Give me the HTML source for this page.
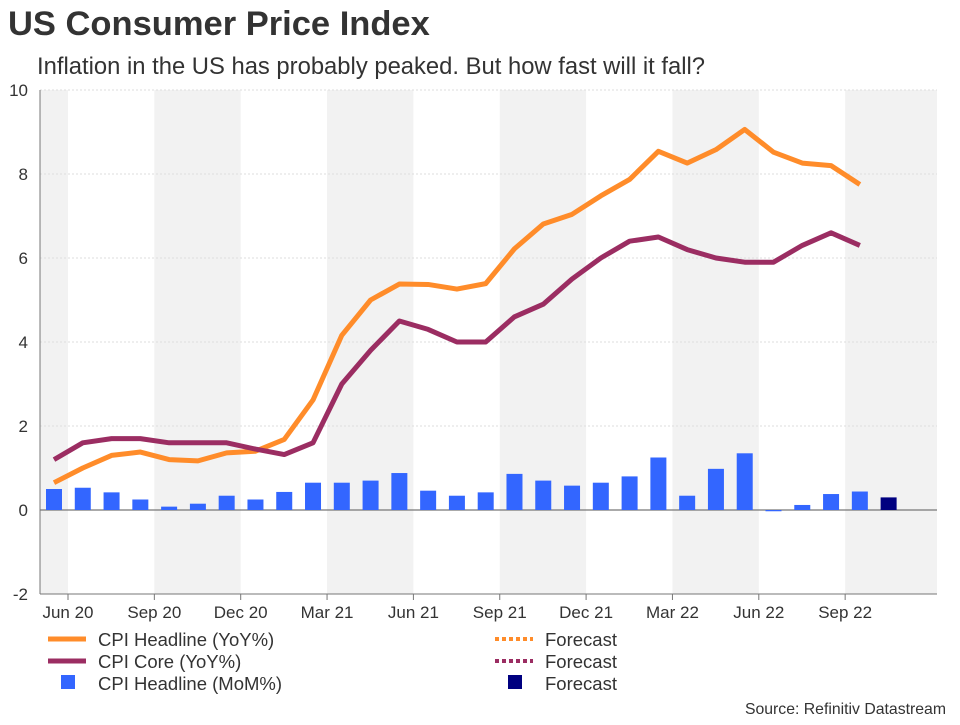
<!DOCTYPE html>
<html><head><meta charset="utf-8"><style>
body{margin:0;background:#fff;font-family:"Liberation Sans",sans-serif;}
svg text{font-family:"Liberation Sans",sans-serif;}
</style></head><body>
<svg id="c" width="960" height="720" xmlns="http://www.w3.org/2000/svg">
<text x="8" y="35" font-size="34.5" font-weight="bold" fill="#333">US Consumer Price Index</text>
<text x="37" y="74" font-size="23.8" fill="#333">Inflation in the US has probably peaked. But how fast will it fall?</text>
<g id="bands"></g><g id="grid"></g><g id="bars"></g><g id="lines"></g><g id="axes"></g>
<g>
<line x1="48" y1="639" x2="86" y2="639" stroke="#ff8c2a" stroke-width="5"/>
<text x="98" y="646" font-size="18.5" fill="#333">CPI Headline (YoY%)</text>
<line x1="48" y1="661" x2="86" y2="661" stroke="#9b2d62" stroke-width="5"/>
<text x="98" y="668" font-size="18.5" fill="#333">CPI Core (YoY%)</text>
<rect x="61" y="675" width="14" height="14" fill="#3366ff"/>
<text x="98" y="690" font-size="18.5" fill="#333">CPI Headline (MoM%)</text>
<line x1="495" y1="639" x2="533" y2="639" stroke="#ff8c2a" stroke-width="4" stroke-dasharray="4,3"/>
<text x="545" y="646" font-size="18.5" fill="#333">Forecast</text>
<line x1="495" y1="661" x2="533" y2="661" stroke="#9b2d62" stroke-width="4" stroke-dasharray="4,3"/>
<text x="545" y="668" font-size="18.5" fill="#333">Forecast</text>
<rect x="508" y="675" width="14" height="14" fill="#000080"/>
<text x="545" y="690" font-size="18.5" fill="#333">Forecast</text>
</g>
<text x="946" y="714" font-size="15.8" fill="#333" text-anchor="end">Source: Refinitiv Datastream</text>
</svg>
<script>
const headline=[0.65,1.0,1.3,1.38,1.2,1.17,1.36,1.4,1.68,2.62,4.16,5.0,5.38,5.37,5.26,5.39,6.22,6.81,7.04,7.48,7.87,8.54,8.26,8.58,9.06,8.52,8.26,8.2,7.75];
const core=[1.2,1.6,1.7,1.7,1.6,1.6,1.6,1.45,1.32,1.6,3.0,3.8,4.5,4.3,4.0,4.0,4.6,4.9,5.5,6.0,6.4,6.5,6.2,6.0,5.9,5.9,6.3,6.6,6.3];
const mom=[0.5,0.53,0.42,0.25,0.08,0.15,0.34,0.25,0.43,0.65,0.65,0.7,0.88,0.46,0.34,0.42,0.86,0.7,0.58,0.65,0.8,1.25,0.34,0.98,1.35,-0.03,0.12,0.38,0.44];
const momForecast=[0.3];
const tickLabels=["Jun 20","Sep 20","Dec 20","Mar 21","Jun 21","Sep 21","Dec 21","Mar 22","Jun 22","Sep 22"];
const yTicks=[-2,0,2,4,6,8,10];
const NS="http://www.w3.org/2000/svg";
const L=40,R=937,T=90,B=594;
const y=v=>510-(v)*42;
const x=i=>54+i*28.78;
const tx=k=>68+k*86.35;
function mk(tag,attrs,parent){const e=document.createElementNS(NS,tag);for(const k in attrs)e.setAttribute(k,attrs[k]);document.getElementById(parent).appendChild(e);return e;}
const bandEdges=[L];for(let k=0;k<tickLabels.length;k++)bandEdges.push(tx(k));bandEdges.push(R);
for(let j=0;j<bandEdges.length-1;j+=2){const e=mk('rect',{x:bandEdges[j],y:T,width:bandEdges[j+1]-bandEdges[j],height:B-T,fill:'#f2f2f2'},'bands');

}
yTicks.forEach(v=>{
const g=mk('line',{x1:L,x2:R,y1:y(v),y2:y(v),stroke:v===0?'#777':'#ddd','stroke-width':v===0?1.2:1,'stroke-dasharray':v===0?'':'2,2'},'grid');


const t=mk('text',{x:28,y:y(v)+6,'font-size':17,fill:'#333','text-anchor':'end'},'axes');t.textContent=v;

});
mom.forEach((v,i)=>{const e=mk('rect',{x:x(i)-8,y:Math.min(y(v),y(0)),width:16,height:Math.abs(y(v)-y(0)),fill:'#3366ff'},'bars');

});
momForecast.forEach((v,j)=>{const i=mom.length+j;const e=mk('rect',{x:x(i)-8,y:Math.min(y(v),y(0)),width:16,height:Math.abs(y(v)-y(0)),fill:'#000080'},'bars');

});
function line(d,c,n){const p=mk('polyline',{points:d.map((v,i)=>x(i)+','+y(v)).join(' '),fill:'none',stroke:c,'stroke-width':5,'stroke-linejoin':'round'},'lines');

}
line(headline,'#ff8c2a','line-cpi-headline');
line(core,'#9b2d62','line-cpi-core');
const ax=mk('line',{x1:L,x2:L,y1:T,y2:B,stroke:'#777'},'axes');


const bx=mk('line',{x1:L,x2:R,y1:B,y2:B,stroke:'#777'},'axes');


tickLabels.forEach((s,k)=>{const tk=mk('line',{x1:tx(k),x2:tx(k),y1:B,y2:B+6,stroke:'#777'},'axes');


const t=mk('text',{x:tx(k),y:B+24,'font-size':17,fill:'#333','text-anchor':'middle'},'axes');t.textContent=s;

});
</script>
</body></html>
